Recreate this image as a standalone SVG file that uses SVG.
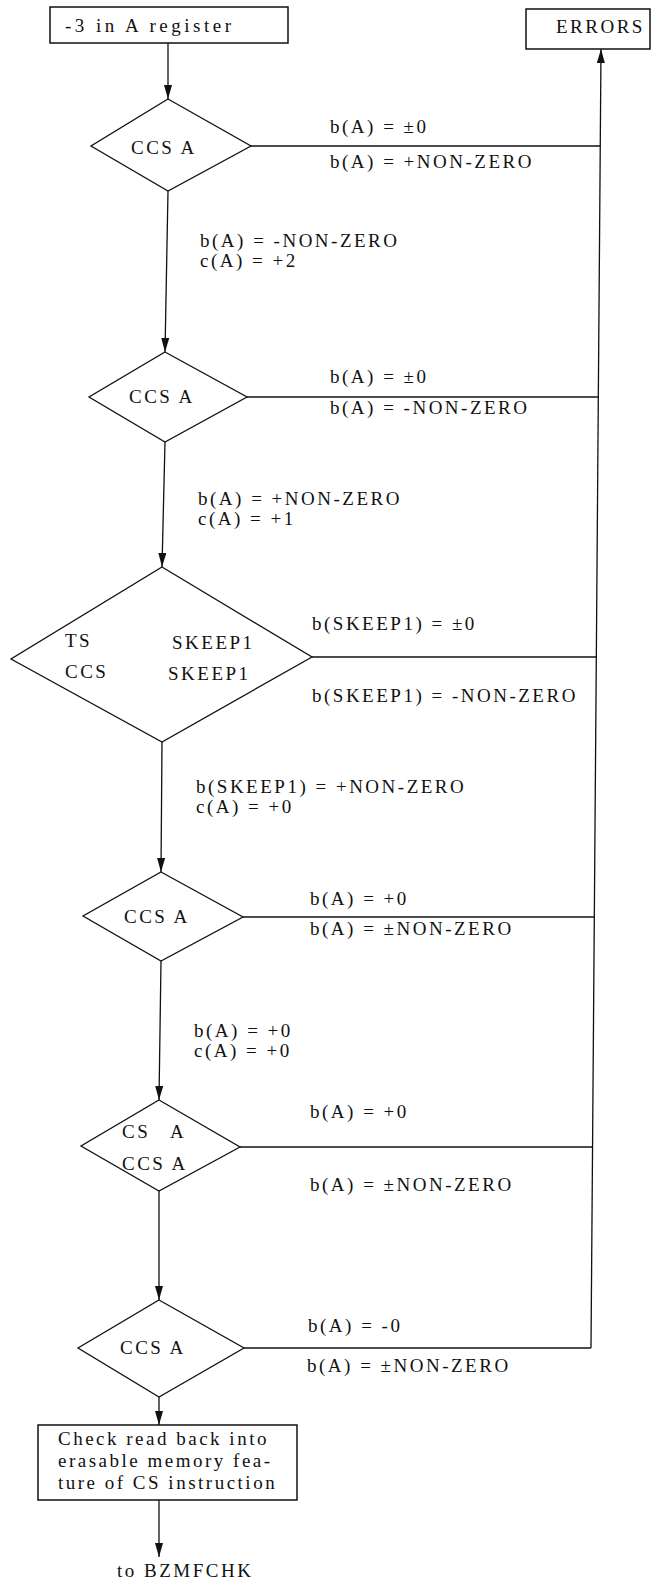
<svg xmlns="http://www.w3.org/2000/svg" width="660" height="1582" viewBox="0 0 660 1582">
<style>
text{font-family:"Liberation Serif","Times New Roman",serif;font-size:19px;letter-spacing:2.5px;fill:#111}
.wide{letter-spacing:3.5px}
.box{fill:#fff;stroke:#111;stroke-width:1.5}
.dia{fill:#fff;stroke:#111;stroke-width:1.3}
.ln{fill:none;stroke:#111;stroke-width:1.3}
</style>
<defs>
<marker id="arr" markerUnits="userSpaceOnUse" markerWidth="14" markerHeight="8" refX="14" refY="4" orient="auto">
<path d="M0,0 L14,4 L0,8 Z" fill="#111"/>
</marker>
</defs>
<rect width="660" height="1582" fill="#fff"/>
<g id="connectors">
<line class="ln" x1="168" y1="43" x2="168" y2="99" marker-end="url(#arr)"/>
<line class="ln" x1="168" y1="191" x2="165" y2="352" marker-end="url(#arr)"/>
<line class="ln" x1="165" y1="442" x2="162" y2="567" marker-end="url(#arr)"/>
<line class="ln" x1="162" y1="742" x2="161" y2="872" marker-end="url(#arr)"/>
<line class="ln" x1="161" y1="961" x2="159" y2="1100" marker-end="url(#arr)"/>
<line class="ln" x1="159" y1="1191" x2="159" y2="1300" marker-end="url(#arr)"/>
<line class="ln" x1="159" y1="1397" x2="159" y2="1425" marker-end="url(#arr)"/>
<line class="ln" x1="159" y1="1500" x2="159" y2="1557" marker-end="url(#arr)"/>
<line class="ln" x1="591" y1="1348" x2="601" y2="49" marker-end="url(#arr)"/>
<line class="ln" x1="251" y1="146" x2="600.3" y2="146"/>
<line class="ln" x1="247" y1="397" x2="598.3" y2="397"/>
<line class="ln" x1="312" y1="657" x2="596.3" y2="657"/>
<line class="ln" x1="243" y1="917" x2="594.3" y2="917"/>
<line class="ln" x1="240" y1="1147" x2="592.5" y2="1147"/>
<line class="ln" x1="244" y1="1348" x2="591" y2="1348"/>
</g>
<g id="labels">
<text x="330" y="133">b(A) = ±0</text>
<text x="330" y="168">b(A) = +NON-ZERO</text>
<text x="200" y="247">b(A) = -NON-ZERO</text>
<text x="200" y="267">c(A) = +2</text>
<text x="330" y="383">b(A) = ±0</text>
<text x="330" y="414">b(A) = -NON-ZERO</text>
<text x="198" y="505">b(A) = +NON-ZERO</text>
<text x="198" y="525">c(A) = +1</text>
<text x="312" y="630">b(SKEEP1) = ±0</text>
<text x="312" y="702">b(SKEEP1) = -NON-ZERO</text>
<text x="196" y="793">b(SKEEP1) = +NON-ZERO</text>
<text x="196" y="813">c(A) = +0</text>
<text x="310" y="905">b(A) = +0</text>
<text x="310" y="935">b(A) = ±NON-ZERO</text>
<text x="194" y="1037">b(A) = +0</text>
<text x="194" y="1057">c(A) = +0</text>
<text x="310" y="1118">b(A) = +0</text>
<text x="310" y="1191">b(A) = ±NON-ZERO</text>
<text x="308" y="1332">b(A) = -0</text>
<text x="307" y="1372">b(A) = ±NON-ZERO</text>
<text x="117" y="1577">to BZMFCHK</text>
</g>
<g id="start">
<rect class="box" x="50" y="7" width="238" height="36"/>
<text class="wide" x="65" y="32">-3 in A register</text>
</g>
<g id="errors">
<rect class="box" x="526" y="9" width="124" height="40"/>
<text x="556" y="33">ERRORS</text>
</g>
<g id="ccs1">
<polygon class="dia" points="168,99 251,146 168,191 91,146"/>
<text x="131" y="154">CCS A</text>
</g>
<g id="ccs2">
<polygon class="dia" points="165,352 247,397 165,442 89,397"/>
<text x="129" y="403">CCS A</text>
</g>
<g id="ts-ccs-skeep1">
<polygon class="dia" points="162,567 312,657 162,742 11,659"/>
<text x="65" y="647">TS</text>
<text x="172" y="649">SKEEP1</text>
<text x="65" y="678">CCS</text>
<text x="168" y="680">SKEEP1</text>
</g>
<g id="ccs4">
<polygon class="dia" points="161,872 243,917 161,961 83,916"/>
<text x="124" y="923">CCS A</text>
</g>
<g id="cs-ccs5">
<polygon class="dia" points="159,1100 240,1147 159,1191 81,1146"/>
<text x="122" y="1138">CS<tspan x="170">A</tspan></text>
<text x="122" y="1170">CCS A</text>
</g>
<g id="ccs6">
<polygon class="dia" points="159,1300 244,1348 159,1397 78,1348"/>
<text x="120" y="1354">CCS A</text>
</g>
<g id="check">
<rect class="box" x="38" y="1425" width="259" height="75"/>
<text x="58" y="1445">Check read back into</text>
<text x="58" y="1467">erasable memory fea-</text>
<text x="58" y="1489">ture of CS instruction</text>
</g>
</svg>
